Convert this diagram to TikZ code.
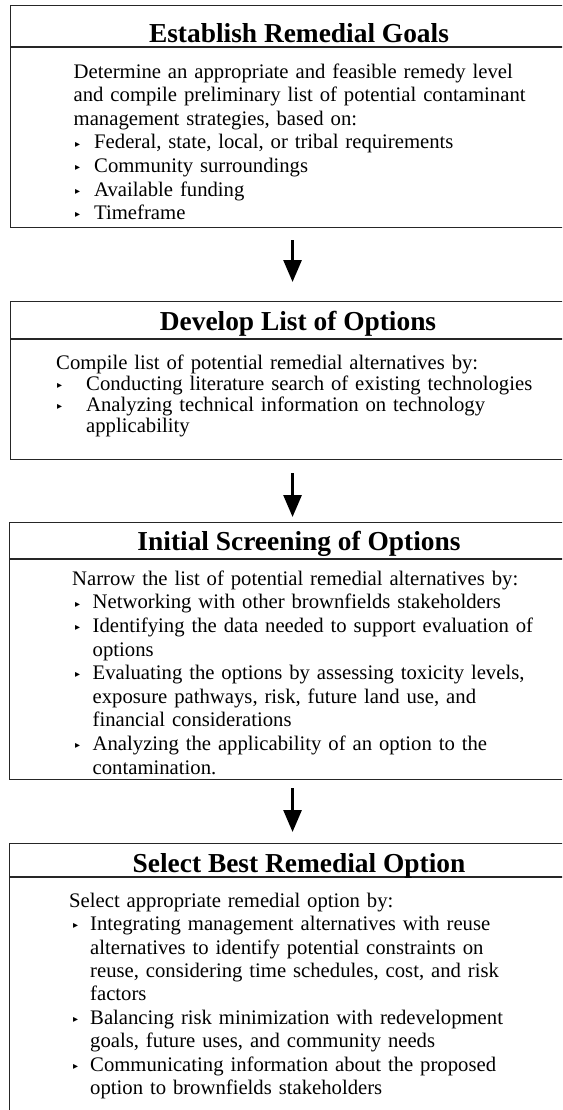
\documentclass[tikz,border=0pt]{standalone}
\usepackage{fontspec}
\setmainfont{Liberation Serif}
\newfontfamily\symfont{DejaVu Sans}
\usetikzlibrary{arrows.meta}

\newlength\bulshift
\newlength\itmind
\newcommand{\bulglyph}{\raisebox{1.8pt}{\symfont\fontsize{10}{10}\selectfont ▸}}
\newcommand{\itm}[1]{\par\hangindent=\itmind\hangafter=1\noindent\makebox[\itmind][l]{\hspace*{\bulshift}\bulglyph}#1}
\newcommand{\intro}[1]{\raggedright\noindent\rule{0pt}{16pt}#1}

\begin{document}
\begin{tikzpicture}[x=1pt, y=-1pt,
  stepbox/.style={draw=black!85, line width=1.1pt, inner sep=0pt, anchor=north west, minimum width=578pt},
  steptitle/.style={anchor=base, inner sep=0pt, font=\bfseries\fontsize{27.4}{30}\selectfont},
  steptext/.style={anchor=north west, inner sep=0pt, text width=500pt, font=\fontsize{20.7}{23.6}\selectfont},
  divider/.style={line width=1.4pt, black!85},
  arr/.style={line width=2.8pt, -{Triangle[width=18pt,length=22pt]}}]
\useasboundingbox (0,0) rectangle (562,1110);
\clip (0,0) rectangle (562,1110);

% frames
\node[stepbox, minimum height=222pt] (goals) at (10,5) {};
\node[stepbox, minimum height=158pt] (options) at (10,301) {};
\node[stepbox, minimum height=257pt] (screen) at (9,522) {};
\node[stepbox, minimum height=300pt] (select) at (9,843) {};

% title rules
\draw[divider] ([yshift=-42pt]goals.north west) -- ([yshift=-42pt]goals.north east);
\draw[divider] ([yshift=-38pt]options.north west) -- ([yshift=-38pt]options.north east);
\draw[divider] ([yshift=-37pt]screen.north west) -- ([yshift=-37pt]screen.north east);
\draw[divider] ([yshift=-34pt]select.north west) -- ([yshift=-34pt]select.north east);

% titles
\node[steptitle] (goalstitle) at (299,43) {Establish Remedial Goals};
\node[steptitle] (optionstitle) at (298,330) {Develop List of Options};
\node[steptitle] (screentitle) at (299,550) {Initial Screening of Options};
\node[steptitle] (selecttitle) at (299,872) {Select Best Remedial Option};

% contents
\node[steptext] (goalstext) at (73.5,62) {\setlength\bulshift{1.5pt}\setlength\itmind{20.5pt}%
\intro{Determine an appropriate and feasible remedy level\newline and compile preliminary list of potential contaminant\newline management strategies, based on:}
\itm{Federal, state, local, or tribal requirements}
\itm{Community surroundings}
\itm{Available funding}
\itm{Timeframe}\par};

\node[steptext, font=\fontsize{20.7}{21}\selectfont] (optionstext) at (56,353) {\setlength\bulshift{1pt}\setlength\itmind{30pt}%
\intro{Compile list of potential remedial alternatives by:}
\itm{Conducting literature search of existing technologies}
\itm{Analyzing technical information on technology\newline applicability}\par};

\node[steptext] (screentext) at (72,569) {\setlength\bulshift{3pt}\setlength\itmind{20.5pt}%
\intro{Narrow the list of potential remedial alternatives by:}
\itm{Networking with other brownfields stakeholders}
\itm{Identifying the data needed to support evaluation of\newline options}
\itm{Evaluating the options by assessing toxicity levels,\newline exposure pathways, risk, future land use, and\newline financial considerations}
\itm{Analyzing the applicability of an option to the\newline contamination.}\par};

\node[steptext, font=\fontsize{20.7}{23.4}\selectfont] (selecttext) at (69,891) {\setlength\bulshift{4pt}\setlength\itmind{21pt}%
\intro{Select appropriate remedial option by:}
\itm{Integrating management alternatives with reuse\newline alternatives to identify potential constraints on\newline reuse, considering time schedules, cost, and risk\newline factors}
\itm{Balancing risk minimization with redevelopment\newline goals, future uses, and community needs}
\itm{Communicating information about the proposed\newline option to brownfields stakeholders}\par};

% arrows
\draw[arr, shorten <=12pt, shorten >=19pt] ([xshift=-7pt]goals.south) -- ([xshift=-7pt]options.north);
\draw[arr, shorten <=13pt, shorten >=5pt] ([xshift=-7pt]options.south) -- ([xshift=-6pt]screen.north);
\draw[arr, shorten <=8pt, shorten >=11pt] ([xshift=-6pt]screen.south) -- ([xshift=-6pt]select.north);
\end{tikzpicture}
\end{document}
